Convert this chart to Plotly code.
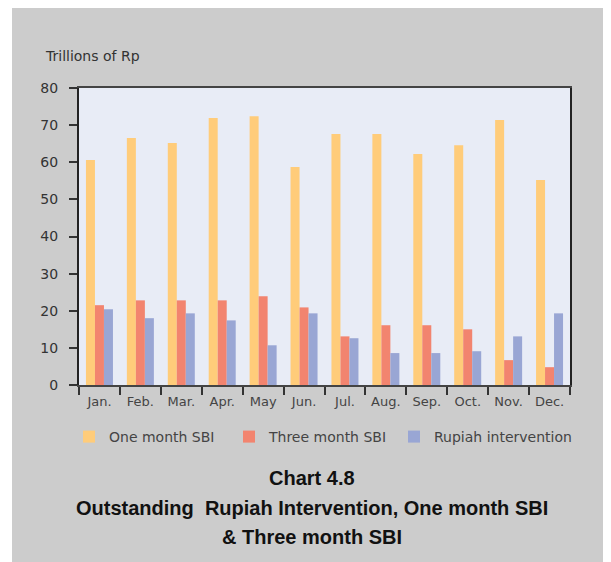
import plotly.graph_objects as go

months = ["Jan.", "Feb.", "Mar.", "Apr.", "May", "Jun.", "Jul.", "Aug.", "Sep.", "Oct.", "Nov.", "Dec."]
one_month_sbi = [60.6, 66.5, 65.2, 71.9, 72.4, 58.7, 67.6, 67.6, 62.2, 64.6, 71.4, 55.2]
three_month_sbi = [21.5, 22.8, 22.8, 22.8, 23.9, 20.9, 13.1, 16.1, 16.1, 15.0, 6.7, 4.8]
rupiah_intervention = [20.4, 18.0, 19.3, 17.4, 10.7, 19.3, 12.6, 8.6, 8.6, 9.1, 13.1, 19.3]
y_ticks = [0, 10, 20, 30, 40, 50, 60, 70, 80]

# The page body has an 8px margin, so the figure is laid out in page coords minus 8.
OFF = 8
W, H = 611 - OFF, 562 - OFF
L, R, T, B = 71, 41, 80, 177
pw, ph = W - L - R, H - T - B


def px_x(p):  # p given in page pixels
    return (p - OFF - L) / pw


def px_y(p):
    return (H - B - (p - OFF)) / ph


font_family = "'DejaVu Sans', Verdana, sans-serif"
title_family = "'Liberation Sans', Arial, sans-serif"

fig = go.Figure()
series = [
    ("One month SBI", one_month_sbi, "#FFCC7A", "legend", 69),
    ("Three month SBI", three_month_sbi, "#F2846F", "legend2", 229),
    ("Rupiah intervention", rupiah_intervention, "#99A6D4", "legend3", 394),
]
legend_layouts = {}
for name, vals, col, lg, lx in series:
    fig.add_trace(go.Bar(x=months, y=vals, name=name, legend=lg,
                         marker=dict(color=col, line=dict(width=0))))
    legend_layouts[lg] = dict(
        orientation="h",
        x=px_x(lx), xanchor="left",
        y=px_y(437), yanchor="middle",
        bgcolor="rgba(0,0,0,0)",
        font=dict(size=14, color="#444444", family=font_family),
    )

fig.update_layout(
    width=W, height=H,
    margin=dict(l=L, r=R, t=T, b=B, pad=0),
    paper_bgcolor="#CCCCCC",
    plot_bgcolor="#E8ECF6",
    barmode="group",
    bargap=0.34,
    bargroupgap=0,
    font=dict(family=font_family, color="#333333", size=14),
    showlegend=True,
    xaxis=dict(
        type="category",
        showgrid=False,
        ticks="outside", tickson="boundaries", ticklen=8, tickcolor="#333333", tickwidth=2,
        showline=True, linecolor="#444444", linewidth=2, mirror=True,
        ticklabelstandoff=3, tickangle=0,
        tickfont=dict(size=13, color="#444444"),
    ),
    yaxis=dict(
        range=[0, 80], tickvals=y_ticks,
        showgrid=False, zeroline=False,
        ticks="outside", ticklen=8, tickcolor="#333333", tickwidth=2,
        showline=True, linecolor="#222222", linewidth=2, mirror=True,
        ticklabelstandoff=8,
        tickfont=dict(size=14, color="#333333"),
    ),
    shapes=[
        dict(type="rect", xref="paper", yref="paper", x0=px_x(0), x1=px_x(12), y0=px_y(-5), y1=px_y(570),
             fillcolor="white", line=dict(width=0)),
    ],
    annotations=[
        dict(text="Trillions of Rp", xref="paper", yref="paper", x=px_x(43), y=px_y(56),
             xanchor="left", yanchor="middle", showarrow=False, font=dict(size=14, color="#333333")),
        dict(text="<b>Chart 4.8</b>", xref="paper", yref="paper", x=px_x(312), y=px_y(478),
             xanchor="center", yanchor="middle", showarrow=False,
             font=dict(size=20, color="#111111", family=title_family)),
        dict(text="<b>Outstanding  Rupiah Intervention, One month SBI</b>", xref="paper", yref="paper",
             x=px_x(312), y=px_y(508), xanchor="center", yanchor="middle", showarrow=False,
             font=dict(size=20, color="#111111", family=title_family)),
        dict(text="<b>&amp; Three month SBI</b>", xref="paper", yref="paper", x=px_x(312), y=px_y(537),
             xanchor="center", yanchor="middle", showarrow=False,
             font=dict(size=20, color="#111111", family=title_family)),
    ],
    **legend_layouts,
)

fig.write_html("out.html")
